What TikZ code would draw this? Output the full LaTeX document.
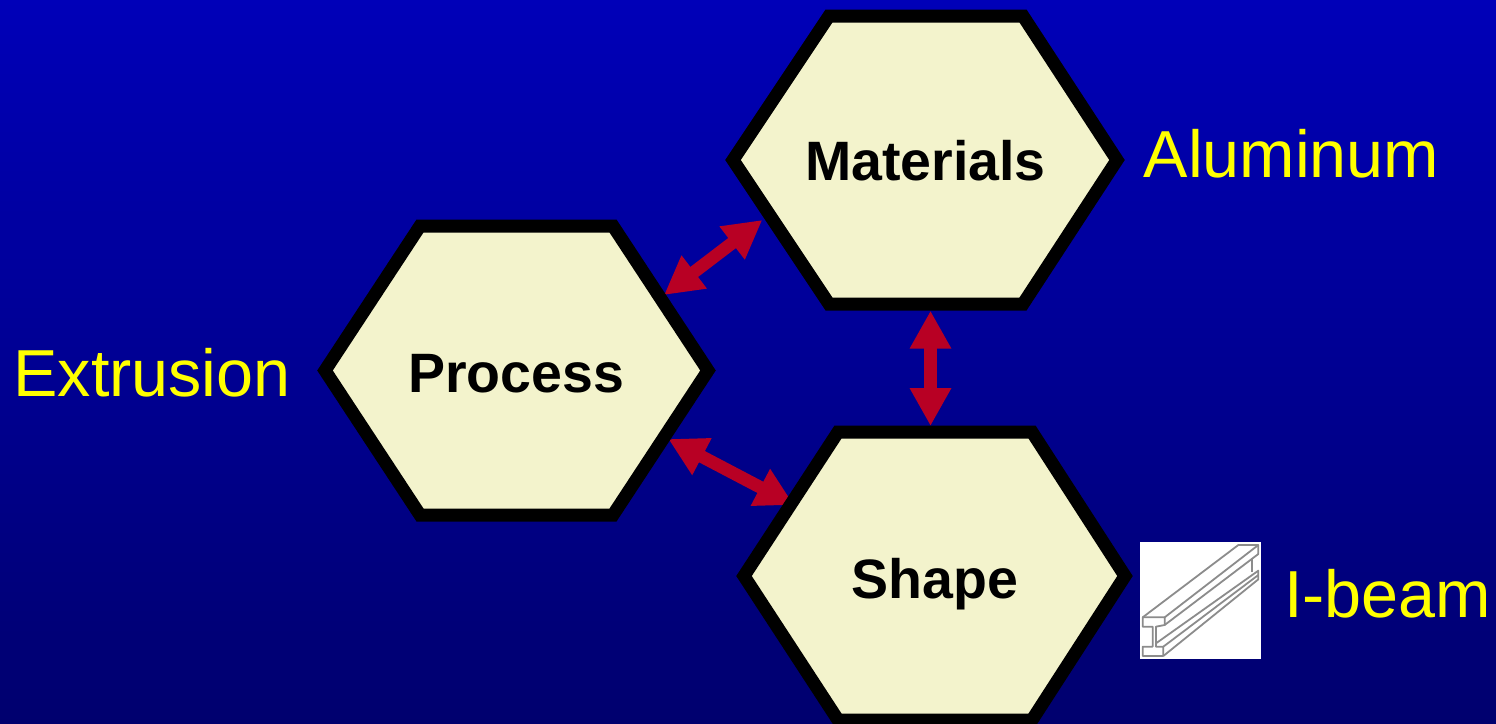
\documentclass[tikz,border=0pt]{standalone}
\usepackage{fontspec}
\setmainfont{Liberation Sans}
\usetikzlibrary{arrows.meta}
\definecolor{hexfill}{HTML}{F3F3CC}
\definecolor{arrowred}{HTML}{B80024}
\definecolor{bgtop}{HTML}{0000B8}
\definecolor{bgbot}{HTML}{00006E}
\definecolor{labelyellow}{HTML}{FFFF00}
\tikzset{
  hexshape/.style={draw=black,fill=hexfill,line width=13pt,miter limit=10,line join=miter},
  hexlabel/.style={anchor=base,inner sep=0pt,font=\fontsize{55.5}{60}\selectfont\bfseries,text=black},
  sidelabel/.style={anchor=base,inner sep=0pt,font=\fontsize{66.5}{70}\selectfont,text=labelyellow},
  dblarrow/.style={draw=arrowred,line width=12.7pt,{Triangle[length=38pt,width=39pt]}-{Triangle[length=38pt,width=39pt]}},
  beamline/.style={draw=black!45,line width=1.8pt,line join=round}
}
\begin{document}
\begin{tikzpicture}[x=1pt,y=-1pt]
\useasboundingbox (0,0) rectangle (1496,723);
\shade[top color=bgtop,bottom color=bgbot] (0,0) rectangle (1496,723);
% arrow end points
\coordinate (pm) at (664,295);
\coordinate (mp) at (762.3,220);
\coordinate (ps) at (668.3,439);
\coordinate (sp) at (794,505);
\coordinate (ms) at (930.5,310.7);
\coordinate (sm) at (930.5,426);
\draw[dblarrow] (pm) -- (mp);
\draw[dblarrow] (ps) -- (sp);
\draw[dblarrow] (ms) -- (sm);
% hexagons
\draw[hexshape] (733,160) -- (829,16) -- (1023,16) -- (1117,160) -- (1023,304) -- (829,304) -- cycle;
\draw[hexshape] (325,370.5) -- (420,226) -- (613,226) -- (708,370.5) -- (613,515) -- (420,515) -- cycle;
\draw[hexshape] (744,576) -- (838,432) -- (1032,432) -- (1125,576) -- (1032,720) -- (838,720) -- cycle;
% labels
\node[hexlabel] (materials) at (925.5,180.5) {Materials};
\node[hexlabel] (process) at (516,392) {Process};
\node[hexlabel] (shape) at (935,598) {Shape};
\node[sidelabel] (aluminum) at (1291.5,177) {Aluminum};
\node[sidelabel] (extrusion) at (152,396) {Extrusion};
\node[sidelabel] (ibeam) at (1387.5,617) {I-beam};
% I-beam picture
\fill[white] (1140,542) rectangle (1261,659);
\begin{scope}[shift={(1130,530)},x=0.3333pt,y=-0.3333pt]
\draw[beamline] (38,262) -- (38,290) -- (68,290) -- (68,350) -- (38,350) -- (38,378) -- (100,378) -- (100,350) -- (78,350) -- (78,290) -- (104,285) -- (104,262) -- cycle;
\draw[beamline] (38,262) -- (325,45) -- (385,45) -- (104,262);
\draw[beamline] (385,45) -- (385,72) -- (104,285);
\draw[beamline] (365,85) -- (365,125);
\draw[beamline] (78,340) -- (385,122) -- (385,148) -- (100,378);
\draw[beamline] (100,350) -- (385,135);
\end{scope}
\end{tikzpicture}
\end{document}
